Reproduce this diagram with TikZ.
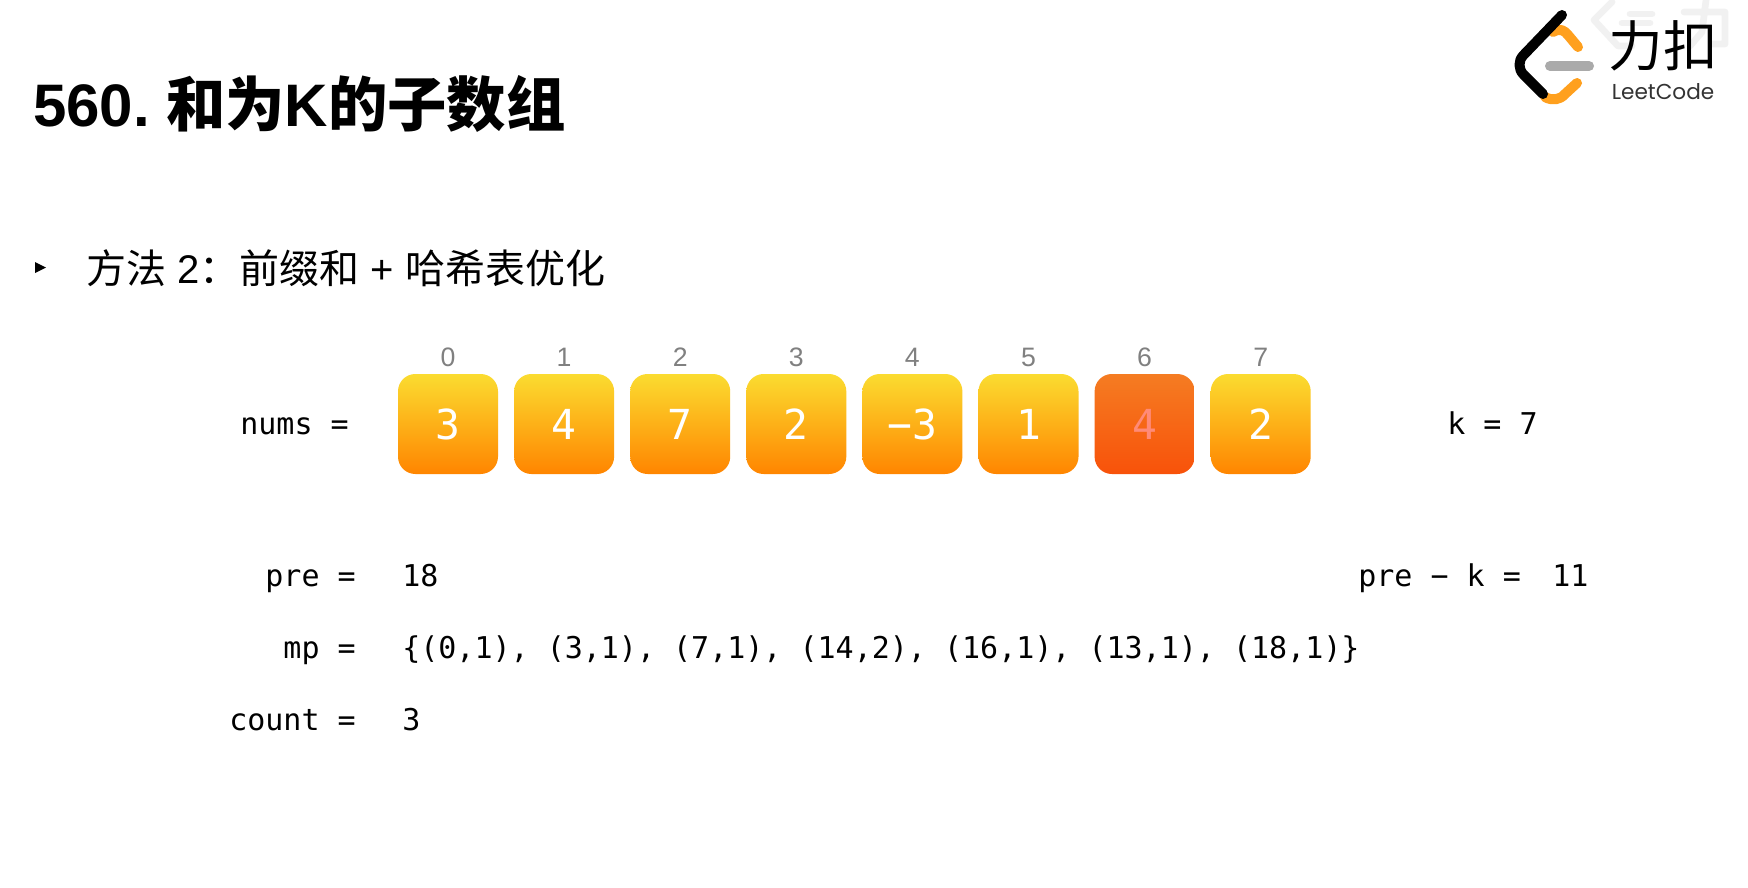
\documentclass[tikz,border=0pt]{standalone}
\usepackage{fontspec}
\setmainfont{Liberation Sans}
\newfontfamily\cjk{Noto Sans CJK SC}
\newfontfamily\code{DejaVu Sans Mono}
\newfontfamily\brand{Poppins}
\definecolor{ygTop}{HTML}{FBDC30}
\definecolor{ygBot}{HTML}{FF8500}
\definecolor{rdTop}{HTML}{F57C22}
\definecolor{rdBot}{HTML}{F8520A}
\definecolor{logoOr}{HTML}{FFA01E}
\definecolor{logoGr}{HTML}{AAAAAA}
\definecolor{wm}{HTML}{F1F1F1}
\newcommand{\fs}[1]{\fontsize{#1}{#1}\selectfont}
\tikzset{
  x=0.75pt,y=-0.75pt,
  cell/.style={minimum width=75pt,minimum height=75pt,inner sep=0pt,rounded corners=13pt,
    top color=ygTop,bottom color=ygBot,text=white,font=\code\fs{31}},
  hot/.style={cell,top color=rdTop,bottom color=rdBot,text=red!45!white!85!orange},
  idx/.style={inner sep=0pt,text=black!50,font=\fs{20},anchor=base},
  mono/.style={inner sep=0pt,anchor=base west,font=\code\fs{22.5}},
  monor/.style={inner sep=0pt,anchor=base east,font=\code\fs{22.5}},
  lg/.style={line width=7.5pt,line cap=round,line join=round},
}
\begin{document}
\begin{tikzpicture}
\useasboundingbox[fill=white] (0,0) rectangle (1748,888);
% watermark
\begin{scope}[wm,line width=5pt,line cap=round,line join=round]
\draw (1612,2) -- (1594,20) -- (1618,46) -- (1632,46);
\draw (1630,14) -- (1652,14) (1622,23) -- (1650,23);
\draw (1684,12) -- (1725,12) -- (1725,44) -- (1712,44) (1706,0) -- (1702,32) -- (1690,46);
\end{scope}
% logo
\draw[lg,logoOr] (1553,32) .. controls (1560,28) and (1564,30) .. (1568,35) -- (1578,47);
\draw[lg,logoOr] (1545,97) .. controls (1552,101) and (1560,100) .. (1565,94) -- (1577,83);
\draw[lg,logoGr] (1550,66) -- (1589,66);
\draw[lg,black,rounded corners=10pt] (1562,15) -- (1514,65) -- (1543,94);
\node[inner sep=0pt,font=\cjk\fs{41}] (lt) at (1663,46) {力扣};
\node[inner sep=0pt,font=\brand\fs{16.2},text=black!80] (ln) at (1663,92) {LeetCode};
% title
\node[inner sep=0pt,anchor=base west,font=\bfseries\fs{45}] (title) at (33,127) {560.\hspace{12pt}{\cjk\bfseries\fs{44.5}和为}K{\cjk\bfseries\fs{44.5}的子数组}};
\fill (35,262) -- (46,267.5) -- (35,273) -- cycle;
\node[inner sep=0pt,anchor=base west,font=\fs{30}] (sub) at (86,283) {{\cjk 方法} 2{\cjk ：前缀和} + {\cjk 哈希表优化}};
% cells
\node[monor] (numsl) at (349,434) {nums =};
\foreach \i/\v/\st in {0/3/cell,1/4/cell,2/7/cell,3/2/cell,4/{−3}/cell,5/1/cell,6/4/hot,7/2/cell}{
  \node[\st] (c\i) at ({448+116.1*\i},424) {\v};
  \node[idx] (i\i) at ({448+116.1*\i},366) {\i};
}
\node[mono] (kk) at (1447,434) {k = 7};
\node[monor] (prel) at (356,586) {pre =};
\node[mono] (prev) at (402,586) {18};
\node[mono] (pk) at (1358,586) {pre − k =};
\node[mono] (pkv) at (1552,586) {11};
\node[monor] (mpl) at (356,658) {mp =};
\node[mono] (mpv) at (402,658) {\{(0,1), (3,1), (7,1), (14,2), (16,1), (13,1), (18,1)\}};
\node[monor] (cl) at (356,730) {count =};
\node[mono] (cv) at (402,730) {3};
\end{tikzpicture}
\end{document}
